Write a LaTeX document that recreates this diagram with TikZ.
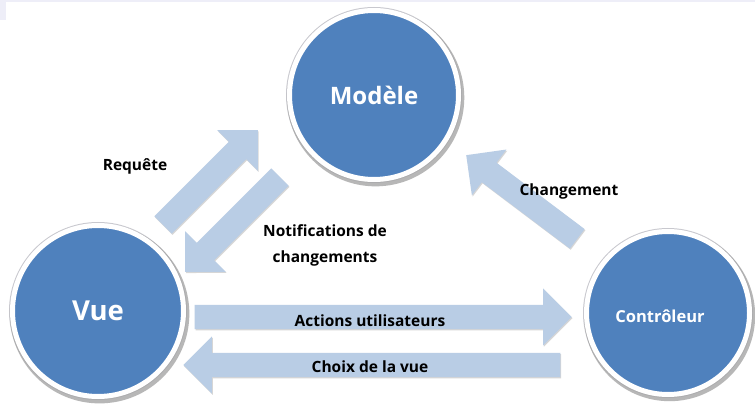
\documentclass[tikz,border=0pt]{standalone}
\usepackage{fontspec}
\setmainfont{Open Sans}
\usetikzlibrary{shapes.arrows,shadows}
\definecolor{ballblue}{RGB}{79,129,189}
\definecolor{arrowblue}{RGB}{185,205,229}
\definecolor{ringgray}{RGB}{200,200,206}
\definecolor{haze}{RGB}{238,238,248}
\begin{document}
\begin{tikzpicture}[x=1pt,y=-1pt,
  ball/.style={circle, fill=ballblue, draw=white, line width=5pt, inner sep=0pt,
    preaction={draw=ringgray, line width=7pt},
    drop shadow={shadow xshift=1.5pt, shadow yshift=-2.5pt, shadow scale=1.05,
                 fill=gray!70, opacity=0.8},
    text=white},
  blockarrow/.style={single arrow, fill=arrowblue, draw=none, inner xsep=0pt,
    inner ysep=12pt, single arrow head extend=16.5pt, single arrow tip angle=90,
    anchor=tip,
    drop shadow={shadow xshift=0.8pt, shadow yshift=-1.2pt, fill=gray!45, opacity=0.7}},
  lbl/.style={font=\bfseries\fontsize{15.5}{26}\selectfont, text=black, align=center}
]
\useasboundingbox (0,0) rectangle (755,406);
\fill[white] (0,0) rectangle (755,406);
% faint band along the top edge
\fill[haze] (0,0) rectangle (755,2);
\fill[haze] (0,0) rectangle (6,20);

% block arrows, each placed by its tip
\node[blockarrow, minimum height=134pt, rotate=45]  (req)   at (258,130) {};
\node[blockarrow, minimum height=134pt, rotate=225] (notif) at (185,272) {};
\node[blockarrow, minimum height=139pt, rotate=143] (chg)   at (466,155) {};
\node[blockarrow, minimum height=377pt, rotate=0]   (act)   at (572,317) {};
\node[blockarrow, minimum height=377pt, rotate=180] (vue2)  at (183,365) {};

% the three components
\node[ball, minimum size=169pt, font=\bfseries\fontsize{24}{28}\selectfont] (modele) at (374,95) {Modèle};
\node[ball, minimum size=171pt, font=\bfseries\fontsize{27.5}{32}\selectfont] (vue) at (98,311) {Vue};
\node[ball, minimum size=163pt] (ctrl) at (668,313) {};
\node[text=white, font=\bfseries\fontsize{16.5}{20}\selectfont] (ctrllbl) at (660,316) {Contrôleur};

% labels
\node[lbl] (lreq)   at (135,166) {Requête};
\node[lbl] (lnotif) at (325,245) {Notifications de\\changements};
\node[lbl] (lchg)   at (569,191) {Changement};
\node[lbl] (lact)   at (370,321) {Actions utilisateurs};
\node[lbl] (lvue)   at (370,367) {Choix de la vue};
\end{tikzpicture}
\end{document}
